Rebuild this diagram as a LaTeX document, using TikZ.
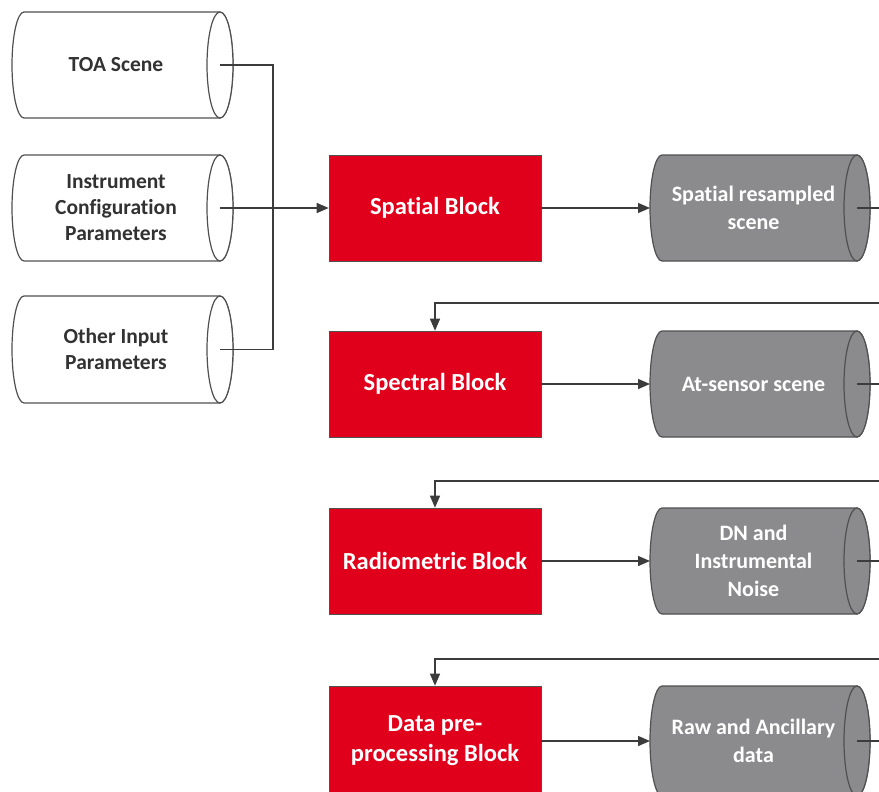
\documentclass[tikz,border=0pt]{standalone}
\usepackage{fontspec}
\setmainfont{Carlito}[Ligatures={NoCommon}]
\usetikzlibrary{arrows.meta}

\definecolor{blockred}{RGB}{224,0,27}
\definecolor{datagray}{RGB}{139,139,141}
\definecolor{edgegray}{RGB}{80,80,80}
\definecolor{wiregray}{RGB}{60,60,60}
\definecolor{inktext}{RGB}{50,50,50}

\tikzset{
  redblock/.style={rectangle, fill=blockred, draw=edgegray, line width=0.6pt,
    minimum width=212pt, minimum height=106pt, inner sep=0pt,
    text=white, align=center, font=\fontsize{24.5}{30}\selectfont\bfseries},
  inputcyl/.style={fill=white, draw=edgegray, line width=1.2pt},
  outputcyl/.style={fill=datagray, draw=edgegray, line width=1.2pt},
  inputtext/.style={text=inktext, align=center, inner sep=0pt,
    font=\fontsize{21.5}{26}\selectfont\bfseries},
  outputtext/.style={text=white, align=center, inner sep=0pt,
    font=\fontsize{22}{28}\selectfont\bfseries},
  wire/.style={draw=wiregray, line width=1.3pt},
  flow/.style={wire, -{Triangle[length=12pt,width=10pt]}},
}

% Horizontal data cylinder.
% #1 name, #2 left x, #3 top y, #4 right x, #5 bottom y, #6 kind (input/output), #7 text
\newcommand\datacyl[7]{%
  \pgfmathsetmacro\cylA{#2+12}%
  \pgfmathsetmacro\cylB{#4-13}%
  \pgfmathsetmacro\cylM{(#3+#5)/2}%
  \pgfmathsetmacro\cylR{(#5-#3)/2}%
  \pgfmathsetmacro\cylK{\cylR*0.5523}%
  \path[#6cyl] (\cylA,#3) -- (\cylB,#3)
    .. controls (\cylB+7.18,#3) and (#4,\cylM-\cylK) .. (#4,\cylM)
    .. controls (#4,\cylM+\cylK) and (\cylB+7.18,#5) .. (\cylB,#5)
    -- (\cylA,#5)
    .. controls (\cylA-6.63,#5) and (#2,\cylM+\cylK) .. (#2,\cylM)
    .. controls (#2,\cylM-\cylK) and (\cylA-6.63,#3) .. (\cylA,#3) -- cycle;
  \draw[#6cyl] (\cylB,\cylM) ellipse [x radius=13, y radius=\cylR];
  \node[#6text] (#1) at ({(#2+\cylB)/2},\cylM) {#7};
  \coordinate (#1-end) at (\cylB,\cylM);
  \coordinate (#1-west) at (#2,\cylM);
}

\begin{document}
\begin{tikzpicture}[x=1pt, y=-1pt]
  \clip (0,0) rectangle (879,792);
  \fill[white] (0,0) rectangle (879,792);

  % inputs
  \datacyl{toa}{12}{12}{233}{118}{input}{TOA Scene}
  \datacyl{instr}{12}{155}{233}{261}{input}{Instrument\\Configuration\\Parameters}
  \datacyl{other}{12}{296}{233}{403}{input}{Other Input\\Parameters}

  % processing chain
  \node[redblock] (spatial) at (435,208) {Spatial Block};
  \node[redblock] (spectral) at (435,384) {Spectral Block};
  \node[redblock] (radio) at (435,561) {Radiometric Block};
  \node[redblock, minimum height=110pt] (prep) at (435,741) {Data pre-\\processing Block};

  % intermediate products
  \datacyl{sres}{650}{155}{870}{261}{output}{Spatial resampled\\scene}
  \datacyl{atsens}{650}{331}{870}{437}{output}{At-sensor scene}
  \datacyl{dn}{650}{508}{870}{614}{output}{DN and\\Instrumental\\Noise}
  \datacyl{raw}{650}{686}{870}{796}{output}{Raw and Ancillary\\data}

  % input merging
  \coordinate (merge) at (273,208);
  \draw[wire] (toa-end) -| (merge);
  \draw[wire] (other-end) -| (merge);
  \draw[flow] (instr-end) -- (spatial);

  % block outputs
  \draw[flow] (spatial) -- (sres-west);
  \draw[flow] (spectral) -- (atsens-west);
  \draw[flow] (radio) -- (dn-west);
  \draw[flow] (prep) -- (raw-west);

  % each product leaves to the right and returns to the next block
  \coordinate (sres-out) at (885,208);
  \coordinate (atsens-out) at (885,384);
  \coordinate (dn-out) at (885,561);
  \coordinate (raw-out) at (885,741);
  \draw[wire] (sres-end) -- (sres-out);
  \draw[wire] (atsens-end) -- (atsens-out);
  \draw[wire] (dn-end) -- (dn-out);
  \draw[wire] (raw-end) -- (raw-out);

  \coordinate (back1) at (885,303);
  \coordinate (back2) at (885,481);
  \coordinate (back3) at (885,659);
  \draw[flow] (back1) -| (spectral.north);
  \draw[flow] (back2) -| (radio.north);
  \draw[flow] (back3) -| (prep.north);
\end{tikzpicture}
\end{document}
